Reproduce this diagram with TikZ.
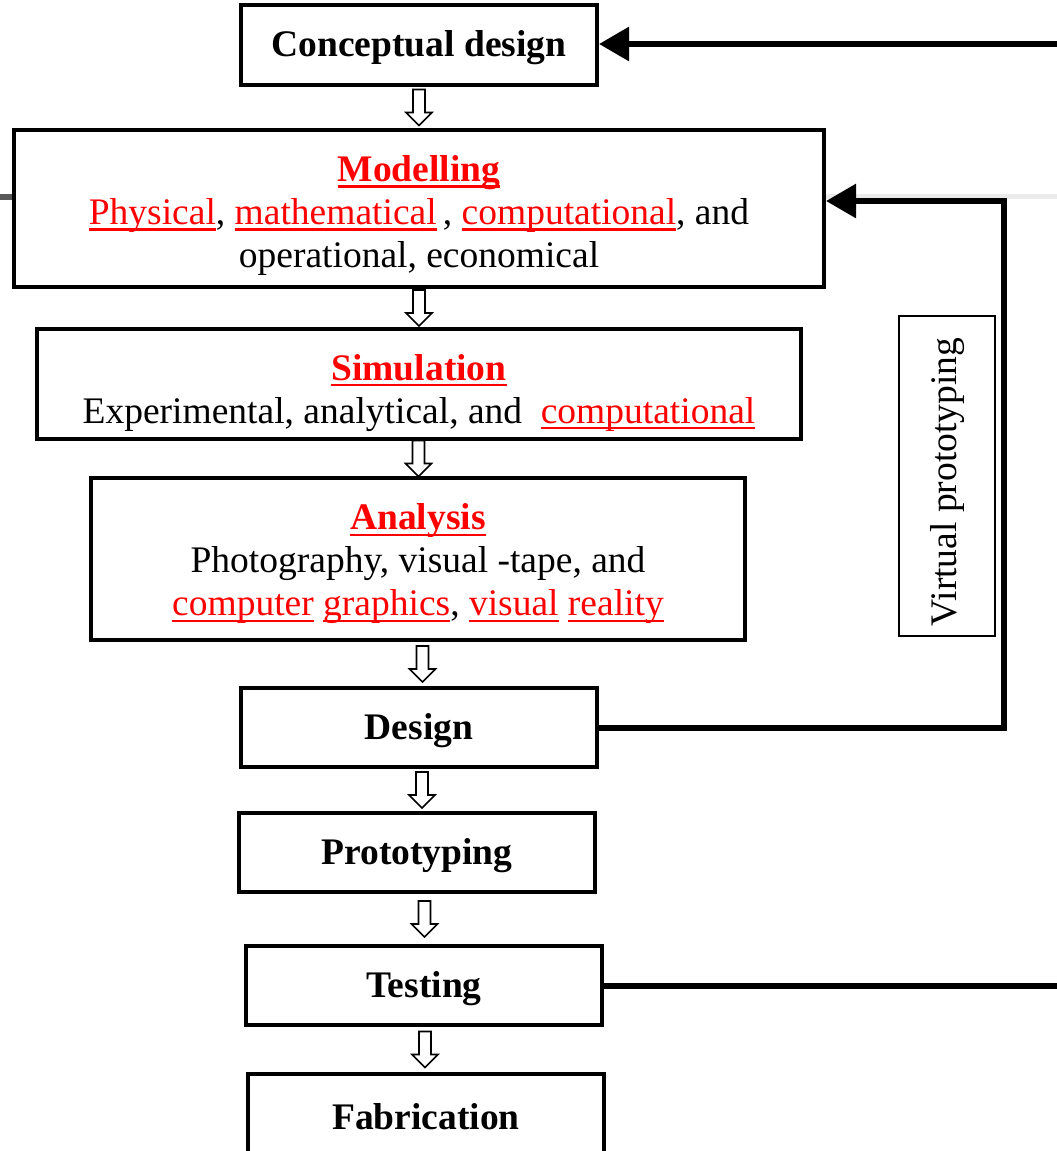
\documentclass[tikz,border=0pt]{standalone}
\usepackage{fontspec}
\setmainfont{Liberation Serif}
\usetikzlibrary{arrows.meta,calc}
% red underlined word
\newcommand\rl[1]{\textcolor{red}{\setbox0\hbox{#1}\rlap{\rule[-0.16em]{\wd0}{0.055em}}\box0}}
\newcommand\rt[1]{\rl{\textbf{#1}}}
\begin{document}
\begin{tikzpicture}[x=1pt,y=-1pt,
  big/.style={font=\fontsize{37.5}{43}\selectfont},
  box/.style={draw,line width=4pt,inner sep=0pt},
  txt/.style={big,align=center,inner sep=0pt},
  fb/.style={line width=6pt},
  tip/.style={-{Triangle[length=30pt,width=33pt]}},
  pics/hollow/.style={code={
    \draw[line width=1.6pt,fill=white,line join=miter]
      (-6,-18) -- (-6,5) -- (-13,5) -- (0,18) -- (13,5) -- (6,5) -- (6,-18) -- cycle;}}]
\useasboundingbox (0,0) rectangle (1057,1151);
\clip (0,0) rectangle (1057,1151);

% faint guide line at the right edge
\coordinate (l0) at (0,197);
\coordinate (g0) at (1057,196);
\coordinate (g1) at (824,196);
\draw[black!8,line width=5pt] (g1) -- (g0);

% process boxes
\node[box,minimum width=356pt,minimum height=80pt,
  label={[txt,yshift=-3pt]center:\textbf{Conceptual design}}] (cd) at (419,45) {};
\node[box,minimum width=810pt,minimum height=157pt,
  label={[txt,yshift=-7pt]center:{\rt{Modelling}\\ \rl{Physical}, \rl{mathematical}\,, \rl{computational}, and\\ operational, economical}}] (mod) at (419,208.5) {};
\node[box,minimum width=764pt,minimum height=110pt,
  label={[txt,yshift=-9pt]center:{\rt{Simulation}\\ Experimental, analytical, and \ \rl{computational}}}] (sim) at (419,384) {};
\node[box,minimum width=654pt,minimum height=162pt,
  label={[txt,yshift=-5pt]center:{\rt{Analysis}\\ Photography, visual -tape, and\\ \rl{computer} \rl{graphics}, \rl{visual} \rl{reality}}}] (ana) at (418,559) {};
\node[box,minimum width=356pt,minimum height=79pt,
  label={[txt,yshift=-3pt]center:\textbf{Design}}] (des) at (419,727.5) {};
\node[box,minimum width=356pt,minimum height=79pt,
  label={[txt,yshift=-3pt]center:\textbf{Prototyping}}] (pro) at (417,852.5) {};
\node[box,minimum width=356pt,minimum height=79pt,
  label={[txt,yshift=-3pt]center:\textbf{Testing}}] (tes) at (424,985.5) {};
\node[box,minimum width=356pt,minimum height=80pt,
  label={[txt,yshift=-3pt]center:\textbf{Fabrication}}] (fab) at (426,1114) {};

% label of the feedback loop
\node[draw,line width=1.5pt,minimum width=96pt,minimum height=320pt,inner sep=0pt] (vp) at (947,476) {};
\node[rotate=90,big,inner sep=0pt] (vpt) at ($(vp.center)+(1,6)$) {Virtual prototyping};

% hollow flow arrows between consecutive boxes
\pic (h1) at ($(cd.south)!0.5!(mod.north)$) {hollow};
\pic (h2) at ($(mod.south)!0.5!(sim.north)$) {hollow};
\pic (h3) at ($(sim.south)!0.5!(ana.north)$) {hollow};
\pic (h4) at ($(ana.south)!0.5!(des.north)+(4,0)$) {hollow};
\pic (h5) at ($(des.south)!0.5!(pro.north)+(4,0)$) {hollow};
\pic (h6) at ($(pro.south)!0.5!(tes.north)+(4,0)$) {hollow};
\pic (h7) at ($(tes.south)!0.5!(fab.north)$) {hollow};

% feedback connectors
\draw[black!65,fb] (l0) -- (l0 -| mod.west);
\coordinate (r0) at (1057,44);
\draw[fb,tip] (r0) -- (r0 -| cd.east);
\coordinate (c1) at (1004,201);
\draw[fb,tip,line join=miter] (des.east) -| (c1) -- (c1 -| mod.east);
\draw[fb] (tes.east) -- (tes.east -| r0);
\end{tikzpicture}
\end{document}
